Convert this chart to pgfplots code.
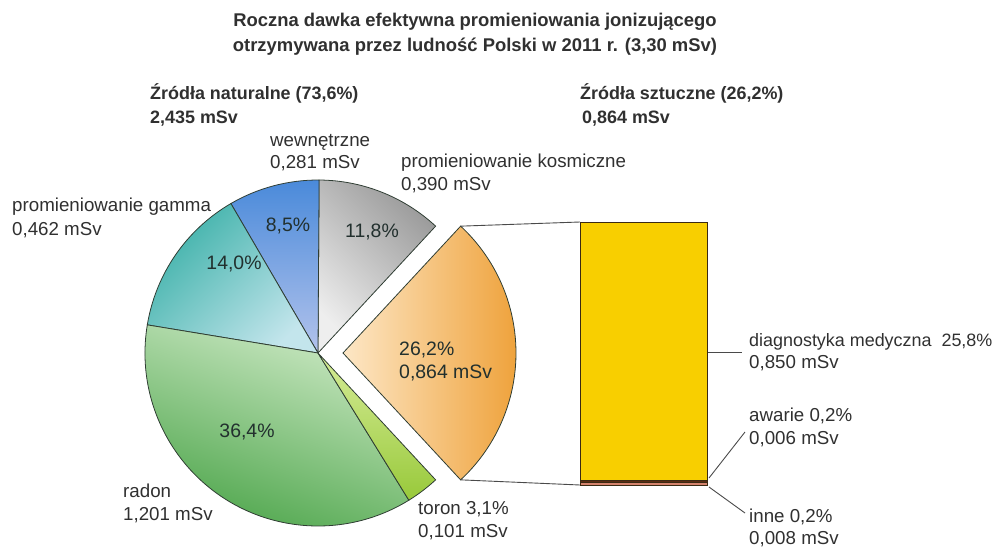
\documentclass[border=0pt]{standalone}
\usepackage{pgfplots}
\pgfplotsset{compat=1.18}
\usepackage{pgfplotstable}
\usepackage{fontspec}
\setmainfont{Liberation Sans}
\definecolor{txt}{HTML}{303030}
\definecolor{inner}{HTML}{22302E}
\definecolor{edge}{HTML}{2F3D33}
\definecolor{orangeL}{HTML}{FDE7C6}
\definecolor{orangeD}{HTML}{EE9F35}
\definecolor{greyD}{HTML}{9A9A9A}
\definecolor{greyL}{HTML}{EEEEEE}
\definecolor{blueD}{HTML}{4A8ADA}
\definecolor{blueL}{HTML}{B3C3EC}
\definecolor{tealD}{HTML}{3DB1A9}
\definecolor{tealL}{HTML}{C3E5EC}
\definecolor{greenL}{HTML}{CDE9C5}
\definecolor{greenD}{HTML}{4CA54A}
\definecolor{toronD}{HTML}{98C93A}
\definecolor{toronL}{HTML}{D6EC98}
\definecolor{barY}{HTML}{F8CF00}
\definecolor{barEdge}{HTML}{3B2A12}
\definecolor{awC}{HTML}{5B2A12}
\definecolor{inC}{HTML}{D4826C}
\definecolor{lineC}{HTML}{4A4A4A}
\pgfplotstableread{
part dose pct
sztuczne 0.864 26.2
kosmiczne 0.390 11.8
wewnetrzne 0.281 8.5
gamma 0.462 14.0
radon 1.201 36.4
toron 0.101 3.1
}\piedata
\newcommand\R{173bp}
\newcommand\pieslice[5]{\shadedraw[#5] (axis cs:#1,#2) -- ++(#3:\R) arc[start angle=#3, end angle=#4, radius=\R] -- cycle;}
\tikzset{
  lab/.style={anchor=base west, inner sep=0pt, text=txt, font=\fontsize{18.8}{21}\selectfont},
  hdr/.style={anchor=base west, inner sep=0pt, text=txt, font=\bfseries\fontsize{18}{20}\selectfont},
  pin/.style={anchor=center, inner sep=0pt, text=inner, font=\fontsize{19.5}{22}\selectfont},
  conn/.style={draw=lineC, line width=0.9pt},
  slice/.style={draw=edge, line width=0.8pt}
}
\begin{document}
\begin{tikzpicture}
\pgfplotstablegetelem{0}{pct}\of\piedata \pgfmathsetmacro\pA{3.6*\pgfplotsretval}
\pgfplotstablegetelem{1}{pct}\of\piedata \pgfmathsetmacro\pB{3.6*\pgfplotsretval}
\pgfplotstablegetelem{2}{pct}\of\piedata \pgfmathsetmacro\pC{3.6*\pgfplotsretval}
\pgfplotstablegetelem{3}{pct}\of\piedata \pgfmathsetmacro\pD{3.6*\pgfplotsretval}
\pgfplotstablegetelem{4}{pct}\of\piedata \pgfmathsetmacro\pE{3.6*\pgfplotsretval}
\pgfplotstablegetelem{5}{pct}\of\piedata \pgfmathsetmacro\pF{3.6*\pgfplotsretval}
\pgfmathsetmacro\aS{-\pA/2}
\pgfmathsetmacro\aK{\pA/2}
\pgfmathsetmacro\aW{\aK+\pB}
\pgfmathsetmacro\aG{\aW+\pC}
\pgfmathsetmacro\aR{\aG+\pD}
\pgfmathsetmacro\aT{\aR+\pE}
\pgfmathsetmacro\aE{\aT+\pF}
\begin{axis}[at={(0,0)}, anchor=south west, width=1001bp, height=547bp, scale only axis,
  xmin=0, xmax=1001, ymin=0, ymax=547, y dir=reverse, hide axis, clip=false]
% pie slices (angles from the shares in \piedata)
\pieslice{343}{353}{\aS}{\aK}{slice, left color=orangeL, right color=orangeD}
\pieslice{318}{353}{\aK}{\aW}{slice, top color=greyD, bottom color=greyL, shading angle=-45}
\pieslice{318}{353}{\aW}{\aG}{slice, top color=blueD, bottom color=blueL}
\pieslice{318}{353}{\aG}{\aR}{slice, top color=tealD, bottom color=tealL, shading angle=45}
\pieslice{318}{353}{\aR}{\aT}{slice, top color=greenL, bottom color=greenD, shading angle=-20}
\pieslice{318}{353}{\aT}{\aE}{slice, top color=toronL, bottom color=toronD}
% connectors to the bar
\draw[conn] (axis cs:343,353) ++(\aK:\R) -- (axis cs:580,222);
\draw[conn] (axis cs:343,353) ++(\aS:\R) -- (axis cs:580,485);
% leader lines
\draw[conn] (axis cs:708,352) -- (axis cs:742,352);
\draw[conn] (axis cs:709,478) -- (axis cs:745,432);
\draw[conn] (axis cs:709,487) -- (axis cs:745,513);
% title
\node[anchor=base, inner sep=0pt, text=txt, font=\bfseries\fontsize{18.5}{21}\selectfont] at (axis cs:475,27) {Roczna dawka efektywna promieniowania jonizującego};
\node[anchor=base, inner sep=0pt, text=txt, font=\bfseries\fontsize{18.5}{21}\selectfont] at (axis cs:475,52) {otrzymywana przez ludność Polski w 2011 r. (3,30 mSv)};
% headers
\node[hdr] at (axis cs:150,99) {Źródła naturalne (73,6\%)};
\node[hdr] at (axis cs:150,123) {2,435 mSv};
\node[hdr] at (axis cs:580,99) {Źródła sztuczne (26,2\%)};
\node[hdr] at (axis cs:582,123) {0,864 mSv};
% outer labels
\node[lab] at (axis cs:270,146) {wewnętrzne};
\node[lab] at (axis cs:270,168) {0,281 mSv};
\node[lab] at (axis cs:401,167) {promieniowanie kosmiczne};
\node[lab] at (axis cs:401,190) {0,390 mSv};
\node[lab] at (axis cs:12,211) {promieniowanie gamma};
\node[lab] at (axis cs:12,235) {0,462 mSv};
\node[lab] at (axis cs:123,497) {radon};
\node[lab] at (axis cs:123,520) {1,201 mSv};
\node[lab] at (axis cs:418,514) {toron 3,1\%};
\node[lab] at (axis cs:418,537) {0,101 mSv};
\node[lab, font=\fontsize{18}{21}\selectfont] at (axis cs:749,346) {diagnostyka medyczna\ \ 25,8\%};
\node[lab] at (axis cs:749,368) {0,850 mSv};
\node[lab] at (axis cs:749,421) {awarie 0,2\%};
\node[lab] at (axis cs:749,444) {0,006 mSv};
\node[lab] at (axis cs:749,522) {inne 0,2\%};
\node[lab] at (axis cs:749,544) {0,008 mSv};
% percentages inside slices
\node[pin] at (axis cs:288,226) {8,5\%};
\node[pin] at (axis cs:372,232) {11,8\%};
\node[pin] at (axis cs:234,264) {14,0\%};
\node[pin] at (axis cs:247,432) {36,4\%};
\node[anchor=base west, inner sep=0pt, text=inner, font=\fontsize{19.5}{22}\selectfont] at (axis cs:399,355) {26,2\%};
\node[anchor=base west, inner sep=0pt, text=inner, font=\fontsize{19.5}{22}\selectfont] at (axis cs:399,378) {0,864 mSv};
\end{axis}
\begin{axis}[at={(580bp,62bp)}, anchor=south west, width=127bp, height=263bp, scale only axis,
  hide axis, xmin=-0.5, xmax=0.5, ymin=0, ymax=0.864, ybar stacked, bar width=127bp, clip=false]
\addplot[fill=inC, draw=barEdge, line width=0.6pt] coordinates {(0,0.008)};
\addplot[fill=awC, draw=barEdge, line width=0.6pt] coordinates {(0,0.006)};
\addplot[fill=barY, draw=barEdge, line width=0.9pt] coordinates {(0,0.850)};
\end{axis}
\pgfresetboundingbox
\path (0,0) rectangle (1001bp,547bp);
\end{tikzpicture}
\end{document}
